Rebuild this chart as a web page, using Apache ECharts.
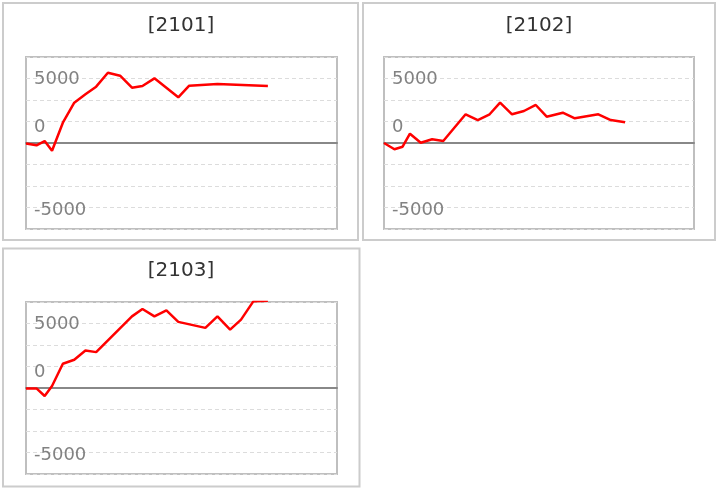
<!DOCTYPE html>
<html>
<head>
<meta charset="utf-8">
<script src="https://cdn.jsdelivr.net/npm/echarts@6/dist/echarts.min.js"></script>
<style>
html,body{margin:0;padding:0;background:#fff;}
#c{width:721px;height:492px;}
</style>
</head>
<body>
<div id="c"></div>
<script>
// shared time positions (units along the x axis)
const times = [0, 0.91, 1.62, 2.26, 3.20, 4.19, 5.16, 6.09, 7.11, 8.17, 9.20, 10.11, 11.15, 12.19, 13.22, 14.17, 15.57, 16.62, 17.72, 18.67, 19.75, 21.0];
const titles = ['[2101]', '[2102]', '[2103]'];
const s2101 = [-50, -270, 230, -900, 2360, 4690, 5660, 6550, 8170, 7830, 6430, 6630, 7520, null, 5310, 6660, null, 6860, null, null, null, 6630];
const s2102 = [0, -730, -430, 1080, 30, 430, 230, null, 3340, 2670, 3340, 4690, 3340, 3720, 4420, 3060, 3520, 2870, null, 3340, 2670, 2410];
const s2103 = [-50, -50, -930, 230, 2820, 3290, 4360, 4170, null, null, 8330, 9190, 8330, 9030, 7690, null, 6990, 8330, 6790, 7950, 10100, 10150];
const yLabels = [5000, 0, -5000];

const seriesValues = [s2101, s2102, s2103];
const grids = [
  {left: 26, top: 57, width: 311, height: 172},
  {left: 384, top: 57, width: 310, height: 172},
  {left: 26, top: 302, width: 311, height: 172}
];
const titlePos = [{x: 181, y: 16}, {x: 539, y: 16}, {x: 181, y: 261}];
const panels = [
  {x: 3, y: 3, width: 355, height: 237},
  {x: 363, y: 3, width: 352, height: 237},
  {x: 3, y: 248.5, width: 356.5, height: 238}
];

const font = 'DejaVu Sans';
const labelStyle = {fontSize: 18, color: '#828282', fontFamily: font};

function pairs(vals) {
  const out = [];
  vals.forEach((v, i) => { if (v !== null) out.push([times[i], v]); });
  return out;
}

const option = {
  animation: false,
  backgroundColor: '#fff',
  graphic: panels.map(p => ({
    type: 'rect', shape: p, z: 0,
    style: {fill: 'none', stroke: '#cccccc', lineWidth: 2}
  })),
  title: titles.map((t, i) => ({
    text: t, left: titlePos[i].x, top: titlePos[i].y, textAlign: 'center', padding: 0,
    textStyle: {fontSize: 20, fontWeight: 'normal', color: '#333', fontFamily: font}
  })),
  grid: grids.map(g => Object.assign({show: true, borderColor: '#bfbfbf', borderWidth: 2, backgroundColor: '#fff', containLabel: false}, g)),
  xAxis: grids.map((g, i) => ({
    type: 'value', gridIndex: i, min: 0, max: 27,
    axisLine: {show: true, onZero: true, lineStyle: {color: '#888', width: 2}},
    axisTick: {show: false}, axisLabel: {show: false}, splitLine: {show: false}
  })),
  yAxis: grids.map((g, i) => ({
    type: 'value', gridIndex: i, min: -10000, max: 10000, interval: 2500,
    axisLine: {show: false}, axisTick: {show: false},
    splitLine: {show: true, lineStyle: {color: '#dcdcdc', type: [4, 3], width: 1}},
    axisLabel: {
      inside: true, margin: 8, showMinLabel: false, showMaxLabel: false,
      fontSize: 18, color: '#828282', fontFamily: font,
      formatter: v => {
        if (v === yLabels[0]) return '{hi|' + v + '}';
        if (v === yLabels[1]) return '{mid|' + v + '}';
        if (v === yLabels[2]) return '{lo|' + v + '}';
        return '';
      },
      rich: {
        hi: Object.assign({padding: [0, 0, 42, 0]}, labelStyle),
        mid: Object.assign({padding: [0, 0, 32, 0]}, labelStyle),
        lo: Object.assign({padding: [48, 0, 0, 0]}, labelStyle)
      }
    }
  })),
  series: seriesValues.map((vals, i) => ({
    type: 'line', xAxisIndex: i, yAxisIndex: i,
    data: pairs(vals), showSymbol: false, symbol: 'none',
    lineStyle: {color: '#ff0000', width: 2.5}, itemStyle: {color: '#ff0000'},
    clip: true, z: 3
  }))
};

const chart = echarts.init(document.getElementById('c'), null, {renderer: 'canvas'});
chart.setOption(option);
</script>
</body>
</html>
